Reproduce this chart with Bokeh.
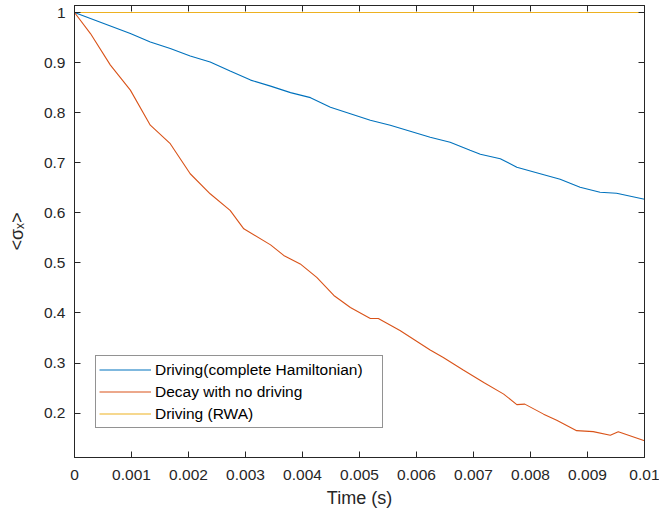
from bokeh.plotting import figure
from bokeh.models import (FixedTicker, CustomJSTickFormatter, LinearAxis, Range1d,
                          Legend, LegendItem)
from bokeh.embed import file_html
from bokeh.resources import INLINE

# ---- data ----
t_drive = [0, 0.00063, 0.00098, 0.00133, 0.00168, 0.00203, 0.00238, 0.00273, 0.00309,
           0.00344, 0.00379, 0.00414, 0.00449, 0.00484, 0.00519, 0.00554, 0.00589,
           0.00624, 0.00659, 0.00694, 0.00712, 0.00747, 0.00776, 0.00817, 0.00852,
           0.00887, 0.00922, 0.00951, 0.01]
v_drive = [1.0, 0.973, 0.958, 0.941, 0.928, 0.913, 0.901, 0.883, 0.865,
           0.853, 0.840, 0.830, 0.811, 0.798, 0.785, 0.775, 0.763,
           0.751, 0.741, 0.725, 0.717, 0.708, 0.691, 0.678, 0.667,
           0.651, 0.641, 0.639, 0.627]

t_decay = [0, 0.00028, 0.00063, 0.00098, 0.00133, 0.00168, 0.00203, 0.00238, 0.00273,
           0.00297, 0.00344, 0.00367, 0.00396, 0.00425, 0.00455, 0.00484, 0.00519,
           0.00533, 0.00571, 0.00624, 0.00647, 0.00682, 0.00718, 0.00753, 0.00776,
           0.00790, 0.00823, 0.00846, 0.00881, 0.00910, 0.00940, 0.00954, 0.01]
v_decay = [1.0, 0.958, 0.895, 0.845, 0.775, 0.738, 0.678, 0.638, 0.605,
           0.568, 0.536, 0.515, 0.498, 0.471, 0.435, 0.411, 0.389,
           0.389, 0.365, 0.326, 0.311, 0.286, 0.261, 0.238, 0.217,
           0.218, 0.198, 0.186, 0.165, 0.163, 0.156, 0.163, 0.145]

t_rwa = [0, 0.01]
v_rwa = [1.0, 1.0]

series_names = ["Driving(complete Hamiltonian)", "Decay with no driving", "Driving (RWA)"]
series_colors = ["#0072BD", "#D95319", "#EDB120"]

x_ticks = [0, 0.001, 0.002, 0.003, 0.004, 0.005, 0.006, 0.007, 0.008, 0.009, 0.01]
x_tick_labels = ["0", "0.001", "0.002", "0.003", "0.004", "0.005", "0.006", "0.007",
                 "0.008", "0.009", "0.01"]
y_ticks = [0.2, 0.3, 0.4, 0.5, 0.6, 0.7, 0.8, 0.9, 1.0]
y_tick_labels = ["0.2", "0.3", "0.4", "0.5", "0.6", "0.7", "0.8", "0.9", "1"]

x_label = "Time (s)"
y_label = "<σₓ>"

FONT = "Liberation Sans"
AX = "#262626"

p = figure(width=659, height=514, output_backend="svg", toolbar_location=None,
           x_range=Range1d(0, 0.01), y_range=Range1d(0.1114, 1.014),
           min_border_left=74, min_border_right=15, min_border_top=5,
           min_border_bottom=57, x_axis_location=None, y_axis_location=None)
p.grid.visible = False
p.outline_line_color = AX
p.background_fill_color = "white"
p.border_fill_color = "white"

lookup = ("let i = tvals.findIndex(t => Math.abs(t - tick) < 1e-9); "
          "return i >= 0 ? tlabels[i] : '';")

def make_axis(ticks, labels, show_labels):
    shown = labels if show_labels else ["" for _ in labels]
    ax = LinearAxis(ticker=FixedTicker(ticks=ticks),
                    formatter=CustomJSTickFormatter(args=dict(tvals=ticks, tlabels=shown),
                                                    code=lookup))
    ax.axis_line_color = AX
    ax.major_tick_line_color = AX
    ax.major_tick_in = 6
    ax.major_tick_out = 0
    ax.minor_tick_line_color = None
    ax.major_label_text_font = FONT
    ax.major_label_text_color = AX
    ax.axis_label_text_font = FONT
    ax.axis_label_text_font_style = "normal"
    ax.axis_label_text_color = AX
    if show_labels:
        ax.major_label_text_font_size = "15.5px"
        ax.major_label_standoff = 9
    else:
        ax.major_label_text_font_size = "1px"
        ax.major_label_standoff = 0
    return ax

xb = make_axis(x_ticks, x_tick_labels, True)
xb.major_label_standoff = 12
xb.axis_label = x_label
xb.axis_label_text_font_size = "18px"
xb.axis_label_standoff = 5
p.add_layout(xb, "below")
p.add_layout(make_axis(x_ticks, x_tick_labels, False), "above")

yl = make_axis(y_ticks, y_tick_labels, True)
yl.axis_label = y_label
yl.axis_label_text_font_size = "18px"
yl.axis_label_standoff = 14
p.add_layout(yl, "left")
p.add_layout(make_axis(y_ticks, y_tick_labels, False), "right")

r1 = p.line(t_drive, v_drive, line_color=series_colors[0], line_width=1.1)
r2 = p.line(t_decay, v_decay, line_color=series_colors[1], line_width=1.1)
r3 = p.line(t_rwa, v_rwa, line_color=series_colors[2], line_width=1.1)

legend = Legend(items=[LegendItem(label=series_names[0], renderers=[r1]),
                       LegendItem(label=series_names[1], renderers=[r2]),
                       LegendItem(label=series_names[2], renderers=[r3])],
                location=(21, 29), margin=0, padding=3, spacing=1,
                glyph_width=52, glyph_height=21, label_height=21, label_width=224,
                label_standoff=4, label_text_font=FONT, label_text_font_size="15.5px",
                label_text_color="black", border_line_color=AX, border_line_width=1,
                background_fill_color="white", background_fill_alpha=1)
p.add_layout(legend)

open("out.html", "w").write(file_html(p, INLINE))
